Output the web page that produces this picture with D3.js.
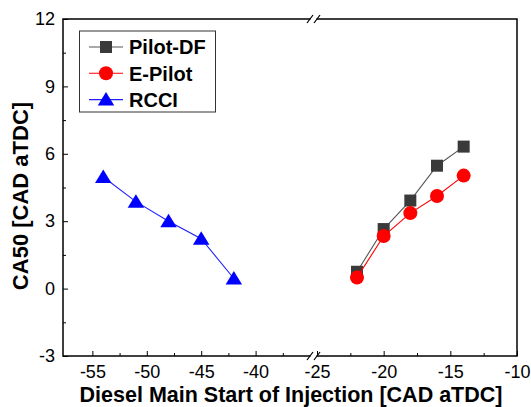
<!DOCTYPE html>
<html>
<head>
<meta charset="utf-8">
<script src="https://cdn.jsdelivr.net/npm/d3@7/dist/d3.min.js"></script>
<style>
  body { margin: 0; background: #fff; }
  text { font-family: "Liberation Sans", Arial, sans-serif; }
</style>
</head>
<body>
<svg id="chart" width="531" height="407"></svg>
<script>
// data
var soiDF = [-22, -20, -18, -16, -14];
var pilotDF = [0.75, 2.65, 3.92, 5.47, 6.32];
var ePilot = [0.49, 2.34, 3.36, 4.12, 5.03];
var soiRCCI = [-54, -51, -48, -45, -42];
var rcci = [4.97, 3.87, 3.0, 2.22, 0.45];

var yTicks = [-3, 0, 3, 6, 9, 12];
var xTicksLeft = [-55, -50, -45, -40];
var xTicksRight = [-25, -20, -15, -10];

var pLeft = 63, pRight = 517, pTop = 19, pBottom = 356;

var svg = d3.select("#chart");

// broken x axis: two linear pieces
var xLeft = d3.scaleLinear().domain([-57.7, -35]).range([pLeft, 310]);
var xRight = d3.scaleLinear().domain([-25, -10]).range([317, pRight]);
var breakX = 313.5;
function x(v) { return v <= -30 ? xLeft(v) : xRight(v); }

var y = d3.scaleLinear().domain([-3, 12]).range([pBottom, pTop]);

var plain = function(d) { return String(d); };

// axes (ticks pointing inward)
var gx1 = svg.append("g").attr("transform", "translate(0," + pBottom + ")")
  .call(d3.axisBottom(xLeft).tickValues(xTicksLeft).tickSize(-5).tickPadding(9).tickFormat(plain));
var gx2 = svg.append("g").attr("transform", "translate(0," + pBottom + ")")
  .call(d3.axisBottom(xRight).tickValues(xTicksRight).tickSize(-5).tickPadding(9).tickFormat(plain));
var gx3 = svg.append("g").attr("transform", "translate(0," + pBottom + ")")
  .call(d3.axisBottom(xLeft).tickValues([-52.5, -47.5, -42.5, -37.5]).tickSize(-3).tickFormat(""));
var gx4 = svg.append("g").attr("transform", "translate(0," + pBottom + ")")
  .call(d3.axisBottom(xRight).tickValues([-22.5, -17.5, -12.5]).tickSize(-3).tickFormat(""));

var gy = svg.append("g").attr("transform", "translate(" + pLeft + ",0)")
  .call(d3.axisLeft(y).tickValues(yTicks).tickSize(-5).tickPadding(8).tickFormat(plain));
var gy2 = svg.append("g").attr("transform", "translate(" + pLeft + ",0)")
  .call(d3.axisLeft(y).tickValues([-1.5, 1.5, 4.5, 7.5, 10.5]).tickSize(-3).tickFormat(""));

[gx1, gx2, gx3, gx4, gy, gy2].forEach(function(g) {
  g.select(".domain").remove();
  g.selectAll("line").attr("stroke", "#000").attr("stroke-width", 1);
  g.selectAll("text").attr("font-size", 18).attr("fill", "#000")
    .style("font-family", "'Liberation Sans', Arial, sans-serif");
});

// frame
svg.append("rect")
  .attr("x", pLeft).attr("y", pTop)
  .attr("width", pRight - pLeft).attr("height", pBottom - pTop)
  .attr("fill", "none").attr("stroke", "#000").attr("stroke-width", 1.5);

// break marks on top and bottom axis
[pTop, pBottom].forEach(function(yy) {
  svg.append("rect").attr("x", breakX - 3).attr("y", yy - 2)
    .attr("width", 6).attr("height", 4).attr("fill", "#fff");
  [-3.5, 3.5].forEach(function(dx) {
    svg.append("line")
      .attr("x1", breakX + dx - 3).attr("y1", yy + 4)
      .attr("x2", breakX + dx + 3).attr("y2", yy - 4)
      .attr("stroke", "#000").attr("stroke-width", 1.2);
  });
});

// axis titles
svg.append("text")
  .attr("x", 291).attr("y", 402)
  .attr("text-anchor", "middle")
  .attr("font-size", 21.5).attr("font-weight", "bold")
  .text("Diesel Main Start of Injection [CAD aTDC]");

svg.append("text")
  .attr("transform", "translate(28,196) rotate(-90)")
  .attr("text-anchor", "middle")
  .attr("font-size", 22).attr("font-weight", "bold")
  .text("CA50 [CAD aTDC]");

// marker drawers
function triPath(s) {
  return "M0," + (-s * 0.5) + "L" + (s * 0.55) + "," + (s * 0.4) + "L" + (-s * 0.55) + "," + (s * 0.4) + "Z";
}

var series = [
  { name: "Pilot-DF", xs: soiDF, ys: pilotDF, line: "#555", fill: "#3a3a3a", shape: "square" },
  { name: "E-Pilot", xs: soiDF, ys: ePilot, line: "#ff0000", fill: "#ff0000", shape: "circle" },
  { name: "RCCI", xs: soiRCCI, ys: rcci, line: "#2020ff", fill: "#0000ff", shape: "triangle" }
];

function drawMarker(g, s, cx, cy) {
  if (s.shape === "square") {
    g.append("rect").attr("x", cx - 6).attr("y", cy - 6)
      .attr("width", 12).attr("height", 12).attr("fill", s.fill);
  } else if (s.shape === "circle") {
    g.append("circle").attr("cx", cx).attr("cy", cy).attr("r", 7).attr("fill", s.fill);
  } else {
    g.append("path").attr("d", triPath(15))
      .attr("transform", "translate(" + cx + "," + cy + ")").attr("fill", s.fill);
  }
}

var line = d3.line().x(function(d) { return x(d[0]); }).y(function(d) { return y(d[1]); });

series.forEach(function(s) {
  var pts = d3.zip(s.xs, s.ys);
  var g = svg.append("g");
  g.append("path").datum(pts).attr("d", line)
    .attr("fill", "none").attr("stroke", s.line).attr("stroke-width", 1.1);
  pts.forEach(function(p) { drawMarker(g, s, x(p[0]), y(p[1])); });
});

// legend
var lg = svg.append("g");
lg.append("rect").attr("x", 79.5).attr("y", 31).attr("width", 136).attr("height", 81)
  .attr("fill", "#fff").attr("stroke", "#333").attr("stroke-width", 1);
series.forEach(function(s, i) {
  var yy = 47 + i * 26.3;
  lg.append("line").attr("x1", 89).attr("x2", 123).attr("y1", yy).attr("y2", yy)
    .attr("stroke", s.line).attr("stroke-width", 1.1);
  drawMarker(lg, s, 106, yy);
  lg.append("text").attr("x", 129).attr("y", yy).attr("dy", "0.36em")
    .attr("font-size", 20).attr("font-weight", "bold").text(s.name);
});
</script>
</body>
</html>
